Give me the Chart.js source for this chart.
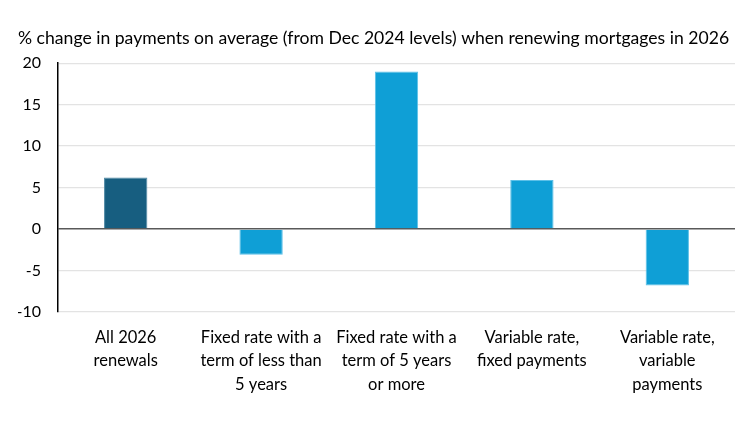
<!DOCTYPE html>
<html><head><meta charset="utf-8">
<script src="https://cdn.jsdelivr.net/npm/chart.js@4"></script>
<style>html,body{margin:0;padding:0;background:#fff}#w{width:750px;height:422px}</style>
</head><body><div id="w"><canvas id="c"></canvas></div>
<script>
const categories = [
  ["All 2026", "renewals"],
  ["Fixed rate with a", "term of less than", "5 years"],
  ["Fixed rate with a", "term of 5 years", "or more"],
  ["Variable rate,", "fixed payments"],
  ["Variable rate,", "variable", "payments"]
];
const values = [6.2, -3.1, 19.0, 5.9, -6.8];
const barColors = ["#175e80", "#0f9fd6", "#0f9fd6", "#0f9fd6", "#0f9fd6"];
const titleText = "% change in payments on average (from Dec 2024 levels) when renewing mortgages in 2026";
const yMin = -10, yMax = 20, yStep = 5;

Chart.defaults.font.family = "Lato, 'Open Sans', sans-serif";
Chart.defaults.color = "#000";

new Chart(document.getElementById('c'), {
  type: 'bar',
  data: {
    labels: categories,
    datasets: [{
      data: values,
      backgroundColor: barColors,
      borderColor: ["#4d87a3", "#5cc0e8", "#5cc0e8", "#5cc0e8", "#5cc0e8"],
      borderWidth: 1,
      categoryPercentage: 1,
      barPercentage: 0.32
    }]
  },
  options: {
    responsive: true,
    maintainAspectRatio: false,
    animation: false,
    layout: { padding: { left: 18, right: 15, top: 0, bottom: 0 } },
    plugins: {
      legend: { display: false },
      tooltip: { enabled: false },
      title: {
        display: true,
        text: titleText,
        align: 'start',
        color: '#000',
        font: { size: 17.6, weight: 'normal' },
        padding: { top: 28, bottom: 14 }
      }
    },
    scales: {
      x: {
        grid: { display: false },
        border: { display: false },
        ticks: { font: { size: 16.5, lineHeight: 1.42 }, color: '#000', maxRotation: 0, autoSkip: false, padding: 6 },
        afterFit: s => { s.height = 110; }
      },
      y: {
        min: yMin, max: yMax,
        ticks: { stepSize: yStep, font: { size: 16 }, color: '#000', padding: 17 },
        grid: {
          color: ctx => ctx.tick && ctx.tick.value === 0 ? '#595959' : '#e3e3e3',
          lineWidth: ctx => ctx.tick && ctx.tick.value === 0 ? 1.5 : 1.2,
          drawTicks: false
        },
        border: { display: true, color: '#000', width: 1.5 },
        afterFit: s => { s.width = 40; }
      }
    }
  }
});
</script></body></html>
